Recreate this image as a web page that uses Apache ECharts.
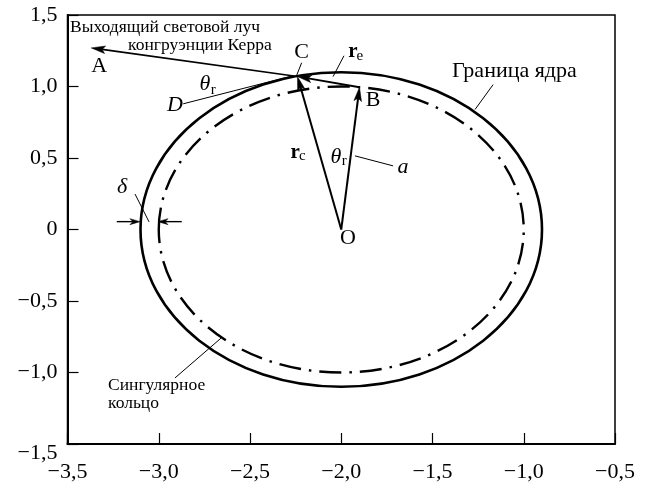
<!DOCTYPE html>
<html><head><meta charset="utf-8">
<script src="https://cdn.jsdelivr.net/npm/echarts@6/dist/echarts.min.js"></script>
<style>html,body{margin:0;padding:0;background:#fff}#c{width:648px;height:483px}</style>
</head><body><div id="c"></div>
<script>
// ---- data ----
const xTicks = [-3.5, -3.0, -2.5, -2.0, -1.5, -1.0, -0.5];
const yTicks = [-1.5, -1.0, -0.5, 0, 0.5, 1.0, 1.5];

const circleNames = ['Граница ядра', 'Сингулярное кольцо'];
const circleCenterX = [-2.0, -2.0];
const circleCenterY = [0.0, 0.0];
const circleRadius = [1.1, 1.0];

const pointNames = ['O', 'A', 'B', 'C'];
const pointX = [-2.0, -3.37, -1.9, -2.24];
const pointY = [0.0, 1.27, 0.995, 1.07];

const arrowFrom = ['O', 'O', 'B', 'C'];
const arrowTo = ['C', 'B', 'C', 'A'];

const deltaX1 = [-3.23, -2.874];
const deltaX2 = [-3.103, -3.004];
const deltaY = [0.055, 0.055];

const leaderX1 = [-2.217, -1.985, -2.866, -1.925, -3.130, -1.168, -2.911];
const leaderY1 = [1.166, 1.215, 0.879, 0.515, 0.248, 1.013, -1.038];
const leaderX2 = [-2.245, -2.045, -2.263, -1.716, -3.053, -1.267, -2.659];
const leaderY2 = [1.076, 1.069, 1.076, 0.445, 0.053, 0.839, -0.760];

const labelTexts = ['Выходящий световой луч', 'конгруэнции Керра', 'A', 'C', 'r', 'e', 'B',
  'θ', 'r', 'D', 'r', 'c', 'θ', 'r', 'a', 'O', 'Граница ядра', 'δ', 'Сингулярное', 'кольцо'];
const labelX = [-3.486, -3.168, -3.327, -2.218, -1.936, -1.898, -1.826,
  -2.747, -2.701, -2.911, -2.253, -2.213, -2.029, -1.983, -1.662, -1.963, -1.393, -3.201, -3.278, -3.278];
const labelY = [1.41, 1.284, 1.145, 1.243, 1.243, 1.215, 0.902,
  1.013, 0.978, 0.867, 0.540, 0.513, 0.506, 0.478, 0.436, -0.058, 1.104, 0.297, -1.087, -1.219];

// ---- styles ----
const FONT = '"Liberation Serif", "DejaVu Serif", serif';
const S = {
  small: {size: 17.5, style: 'normal', weight: 'normal', align: 'left'},
  big: {size: 22, style: 'normal', weight: 'normal', align: 'center'},
  ital: {size: 22, style: 'italic', weight: 'normal', align: 'center'},
  bold: {size: 21, style: 'normal', weight: 'bold', align: 'center'},
  sub: {size: 15, style: 'normal', weight: 'normal', align: 'center'},
  note: {size: 22, style: 'normal', weight: 'normal', align: 'left'},
  note2: {size: 17.5, style: 'normal', weight: 'normal', align: 'left'}
};
const labelStyle = ['small', 'small', 'big', 'big', 'bold', 'sub', 'big',
  'ital', 'sub', 'ital', 'bold', 'sub', 'ital', 'sub', 'ital', 'big', 'note', 'ital', 'note2', 'note2'];

const fmt = v => Math.abs(v) < 1e-9 ? '0' : (v < 0 ? '−' : '') + Math.abs(v).toFixed(1).replace('.', ',');

function arrowShape(p1, p2, L, W, lw) {
  const dx = p2[0] - p1[0], dy = p2[1] - p1[1];
  const len = Math.sqrt(dx * dx + dy * dy);
  const ux = dx / len, uy = dy / len, nx = -uy, ny = ux;
  const bx = p2[0] - ux * L, by = p2[1] - uy * L;
  const mx = p2[0] - ux * (L - 3), my = p2[1] - uy * (L - 3);
  return [
    {type: 'line', shape: {x1: p1[0], y1: p1[1], x2: mx, y2: my}, style: {stroke: '#000', lineWidth: lw}},
    {type: 'polygon', shape: {points: [[p2[0], p2[1]], [bx + nx * W, by + ny * W], [mx, my], [bx - nx * W, by - ny * W]]},
      style: {fill: '#000', stroke: '#000', lineWidth: 0.5}}
  ];
}

const circleData = circleNames.map((n, i) => ({name: n, value: [circleCenterX[i], circleCenterY[i], circleRadius[i]]}));
const arrowData = arrowFrom.map((f, i) => {
  const a = pointNames.indexOf(f), b = pointNames.indexOf(arrowTo[i]);
  return [pointX[a], pointY[a], pointX[b], pointY[b]];
});
const arrowWidths = [2, 2, 2, 1.6];
const deltaData = deltaX1.map((x, i) => [x, deltaY[i], deltaX2[i], deltaY[i]]);
const leaderData = leaderX1.map((x, i) => [x, leaderY1[i], leaderX2[i], leaderY2[i]]);
const labelData = labelTexts.map((t, i) => [labelX[i], labelY[i], i]);

const chart = echarts.init(document.getElementById('c'), null, {renderer: 'canvas'});
chart.setOption({
  animation: false,
  backgroundColor: '#fff',
  grid: {left: 67.5, right: 33, top: 15, bottom: 36.5, show: true, borderColor: '#000', borderWidth: 1.5, containLabel: false},
  xAxis: {
    type: 'value', min: xTicks[0], max: xTicks[xTicks.length - 1], interval: 0.5,
    axisLine: {show: true, onZero: false, lineStyle: {color: '#000', width: 2}},
    axisTick: {show: true, inside: true, length: 11, lineStyle: {color: '#000', width: 1.2}},
    splitLine: {show: false},
    axisLabel: {formatter: fmt, color: '#000', fontFamily: FONT, fontSize: 22, margin: 17}
  },
  yAxis: {
    type: 'value', min: yTicks[0], max: yTicks[yTicks.length - 1], interval: 0.5,
    axisLine: {show: true, onZero: false, lineStyle: {color: '#000', width: 2}},
    axisTick: {show: true, inside: true, length: 11, lineStyle: {color: '#000', width: 1.2}},
    splitLine: {show: false},
    axisLabel: {
      formatter: v => Math.abs(v - yTicks[0]) < 1e-9 ? '{low|' + fmt(v) + '}' : fmt(v),
      rich: {low: {fontFamily: FONT, fontSize: 22, color: '#000', padding: [18, 0, 0, 0]}},
      color: '#000', fontFamily: FONT, fontSize: 22, margin: 10
    }
  },
  series: [
    {
      type: 'custom', name: 'circles', data: circleData, encode: {x: 0, y: 1}, clip: false,
      renderItem: (params, api) => {
        const c = api.coord([api.value(0), api.value(1)]);
        const s = api.size([api.value(2), api.value(2)]);
        const dashed = params.dataIndex === 1;
        return {type: 'ellipse', shape: {cx: c[0], cy: c[1], rx: s[0], ry: s[1]},
          style: {fill: 'none', stroke: '#000', lineWidth: dashed ? 2.4 : 2.6, lineDash: dashed ? [22, 8, 2.5, 8] : null}};
      }
    },
    {
      type: 'custom', name: 'arrows', data: arrowData, encode: {x: [0, 2], y: [1, 3]}, clip: false,
      renderItem: (params, api) => {
        const p1 = api.coord([api.value(0), api.value(1)]);
        const p2 = api.coord([api.value(2), api.value(3)]);
        return {type: 'group', children: arrowShape(p1, p2, 14, 3.8, arrowWidths[params.dataIndex])};
      }
    },
    {
      type: 'custom', name: 'delta', data: deltaData, encode: {x: [0, 2], y: [1, 3]}, clip: false,
      renderItem: (params, api) => {
        const p1 = api.coord([api.value(0), api.value(1)]);
        const p2 = api.coord([api.value(2), api.value(3)]);
        return {type: 'group', children: arrowShape(p1, p2, 10, 3, 1.4)};
      }
    },
    {
      type: 'custom', name: 'leaders', data: leaderData, encode: {x: [0, 2], y: [1, 3]}, clip: false,
      renderItem: (params, api) => {
        const p1 = api.coord([api.value(0), api.value(1)]);
        const p2 = api.coord([api.value(2), api.value(3)]);
        return {type: 'line', shape: {x1: p1[0], y1: p1[1], x2: p2[0], y2: p2[1]}, style: {stroke: '#000', lineWidth: 1}};
      }
    },
    {
      type: 'custom', name: 'labels', data: labelData, encode: {x: 0, y: 1}, clip: false, z: 5,
      renderItem: (params, api) => {
        const p = api.coord([api.value(0), api.value(1)]);
        const i = params.dataIndex;
        const st = S[labelStyle[i]];
        return {type: 'text', x: p[0], y: p[1],
          style: {text: labelTexts[i], fill: '#000', font: st.style + ' ' + st.weight + ' ' + st.size + 'px ' + FONT,
            align: st.align, verticalAlign: 'middle'}};
      }
    }
  ]
});
</script></body></html>
